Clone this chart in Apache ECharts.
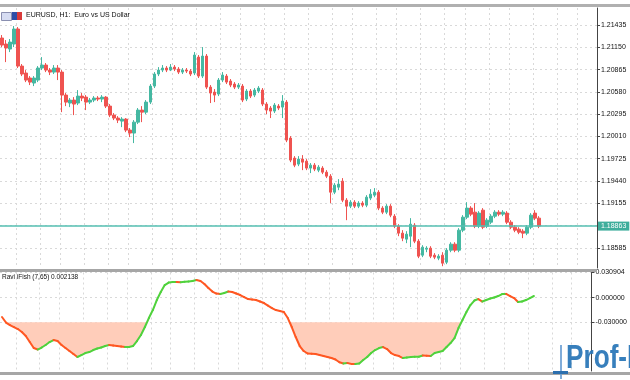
<!DOCTYPE html>
<html><head><meta charset="utf-8">
<script src="https://cdn.jsdelivr.net/npm/echarts@6/dist/echarts.min.js"></script>
<style>html,body{margin:0;padding:0;background:#fff}#c{width:630px;height:380px}</style>
</head><body><div id="c"></div>
<script>
// ---- data (EURUSD H1) ----
const title = 'EURUSD, H1:  Euro vs US Dollar';
const indicatorName = 'Ravi iFish (7,65)';
const currentPrice = 1.18863;
const fishLevel = -0.03;
const priceTicks = [1.18585,1.18870,1.19155,1.19440,1.19725,1.20010,1.20295,1.20580,1.20865,1.21150,1.21435];
const priceLabels = [1.18585,1.19155,1.19440,1.19725,1.20010,1.20295,1.20580,1.20865,1.21150,1.21435];
const fishTicks = [-0.03, 0, 0.030904];
const gridBars = [4,10,15,21,27,32,38,43,49,55,60,66,71,77,83,88,94,99,105,111,116,122,127,133,139,144];
const open = [1.21269,1.21192,1.21128,1.21192,1.21384,1.20910,1.20821,1.20757,1.20693,1.20731,
1.20885,1.20923,1.20859,1.20833,1.20885,1.20833,1.20539,1.20437,1.20475,1.20437,
1.20526,1.20513,1.20449,1.20475,1.20501,1.20488,1.20513,1.20398,1.20283,1.20245,
1.20206,1.20232,1.20091,1.20053,1.20193,1.20347,1.20321,1.20449,1.20654,1.20808,
1.20859,1.20885,1.20859,1.20897,1.20872,1.20833,1.20859,1.20846,1.20821,1.21025,
1.20782,1.21038,1.20641,1.20577,1.20552,1.20731,1.20782,1.20718,1.20680,1.20641,
1.20654,1.20488,1.20590,1.20539,1.20590,1.20603,1.20424,1.20373,1.20334,1.20398,
1.20385,1.20449,1.19989,1.19733,1.19656,1.19720,1.19694,1.19605,1.19643,1.19579,
1.19605,1.19553,1.19502,1.19297,1.19361,1.19438,1.19195,1.19118,1.19169,1.19118,
1.19157,1.19131,1.19221,1.19259,1.19297,1.19093,1.19041,1.19118,1.18990,1.18862,
1.18773,1.18696,1.18734,1.18875,1.18670,1.18491,1.18568,1.18581,1.18491,1.18453,
1.18491,1.18401,1.18555,1.18632,1.18555,1.18811,1.18977,1.19093,1.19041,1.18862,
1.19067,1.18862,1.18913,1.18990,1.19041,1.19016,1.19029,1.18913,1.18849,1.18824,
1.18798,1.18773,1.18849,1.19029,1.18965];
const close = [1.21179,1.21141,1.21217,1.21384,1.20910,1.20808,1.20731,1.20705,1.20757,1.20885,
1.20923,1.20859,1.20833,1.20885,1.20833,1.20539,1.20449,1.20475,1.20424,1.20526,
1.20501,1.20449,1.20475,1.20501,1.20488,1.20513,1.20398,1.20283,1.20245,1.20219,
1.20232,1.20091,1.20053,1.20193,1.20347,1.20321,1.20449,1.20654,1.20808,1.20859,
1.20885,1.20859,1.20897,1.20872,1.20833,1.20859,1.20846,1.20808,1.21051,1.20782,
1.21038,1.20641,1.20565,1.20539,1.20731,1.20795,1.20705,1.20667,1.20641,1.20667,
1.20475,1.20590,1.20526,1.20603,1.20629,1.20424,1.20347,1.20334,1.20411,1.20373,
1.20462,1.19963,1.19707,1.19643,1.19720,1.19681,1.19605,1.19643,1.19592,1.19617,
1.19553,1.19502,1.19297,1.19387,1.19400,1.19195,1.19118,1.19169,1.19118,1.19157,
1.19131,1.19233,1.19272,1.19297,1.19093,1.19041,1.19118,1.19003,1.18862,1.18773,
1.18709,1.18760,1.18888,1.18670,1.18478,1.18594,1.18581,1.18478,1.18466,1.18478,
1.18389,1.18555,1.18632,1.18555,1.18811,1.18977,1.19093,1.19016,1.18862,1.19029,
1.18849,1.18939,1.18990,1.19041,1.19016,1.19041,1.18913,1.18849,1.18811,1.18785,
1.18773,1.18849,1.19003,1.18965,1.18863];
const low = [1.21153,1.20961,1.21089,1.21153,1.20885,1.20782,1.20705,1.20667,1.20654,1.20705,
1.20859,1.20833,1.20795,1.20808,1.20731,1.20321,1.20398,1.20385,1.20283,1.20411,
1.20462,1.20347,1.20424,1.20449,1.20462,1.20449,1.20373,1.20257,1.20219,1.20181,
1.20129,1.20065,1.20001,1.19925,1.20168,1.20193,1.20296,1.20424,1.20629,1.20782,
1.20833,1.20833,1.20846,1.20846,1.20808,1.20808,1.20821,1.20782,1.20795,1.20757,
1.20757,1.20616,1.20437,1.20449,1.20526,1.20705,1.20680,1.20641,1.20616,1.20616,
1.20449,1.20462,1.20501,1.20513,1.20565,1.20398,1.20296,1.20245,1.20309,1.20347,
1.20245,1.19937,1.19681,1.19617,1.19630,1.19579,1.19579,1.19541,1.19566,1.19553,
1.19528,1.19477,1.19157,1.19272,1.19323,1.19169,1.18939,1.19093,1.19093,1.19093,
1.19105,1.19105,1.19195,1.19233,1.19067,1.19016,1.19016,1.18977,1.18837,1.18734,
1.18670,1.18645,1.18594,1.18645,1.18453,1.18466,1.18529,1.18453,1.18440,1.18427,
1.18350,1.18376,1.18529,1.18529,1.18529,1.18785,1.18952,1.18990,1.18837,1.18837,
1.18824,1.18837,1.18888,1.18965,1.18990,1.18990,1.18888,1.18824,1.18785,1.18760,
1.18709,1.18747,1.18824,1.18939,1.18837];
const high = [1.21307,1.21243,1.21256,1.21422,1.21409,1.20936,1.20859,1.20782,1.20782,1.20910,
1.21025,1.20949,1.20885,1.20923,1.20923,1.20859,1.20565,1.20501,1.20513,1.20603,
1.20565,1.20539,1.20501,1.20526,1.20526,1.20539,1.20526,1.20424,1.20309,1.20270,
1.20257,1.20245,1.20117,1.20219,1.20373,1.20398,1.20475,1.20680,1.20833,1.20897,
1.20923,1.20910,1.20936,1.20923,1.20897,1.20885,1.20885,1.20872,1.21089,1.21051,
1.21153,1.21064,1.20667,1.20616,1.20757,1.20833,1.20808,1.20744,1.20705,1.20693,
1.20680,1.20616,1.20616,1.20629,1.20654,1.20629,1.20449,1.20398,1.20437,1.20424,
1.20539,1.20475,1.20014,1.19758,1.19758,1.19771,1.19720,1.19669,1.19669,1.19643,
1.19630,1.19579,1.19528,1.19413,1.19464,1.19477,1.19221,1.19195,1.19195,1.19182,
1.19182,1.19259,1.19336,1.19349,1.19323,1.19118,1.19144,1.19144,1.19016,1.18888,
1.18811,1.18798,1.18965,1.18901,1.18696,1.18619,1.18606,1.18606,1.18517,1.18504,
1.18529,1.18581,1.18657,1.18657,1.18837,1.19003,1.19169,1.19118,1.19157,1.19054,
1.19093,1.18965,1.19016,1.19067,1.19067,1.19067,1.19054,1.18939,1.18875,1.18849,
1.18824,1.18875,1.19029,1.19067,1.18990];
const ifish = [-0.02362,-0.03036,-0.03342,-0.03586,-0.03831,-0.04198,-0.04688,-0.05422,-0.06157,-0.06340,
-0.06096,-0.05790,-0.05422,-0.05178,-0.05300,-0.05790,-0.06157,-0.06524,-0.06891,-0.07258,
-0.07014,-0.06769,-0.06646,-0.06402,-0.06218,-0.06096,-0.05912,-0.05790,-0.05851,-0.05912,
-0.05973,-0.06034,-0.06034,-0.05912,-0.05300,-0.04566,-0.03586,-0.02485,-0.01506,-0.00282,
0.00698,0.01554,0.01860,0.01922,0.01935,0.01910,0.01945,0.01983,0.02044,0.02166,
0.02044,0.01677,0.01187,0.00759,0.00514,0.00453,0.00575,0.00759,0.00698,0.00514,
0.00330,0.00086,-0.00159,-0.00220,-0.00282,-0.00465,-0.00649,-0.00955,-0.01261,-0.01506,
-0.01628,-0.01750,-0.02485,-0.03586,-0.04810,-0.05912,-0.06524,-0.06830,-0.06867,-0.06891,
-0.07014,-0.07136,-0.07258,-0.07381,-0.07564,-0.07900,-0.08050,-0.08000,-0.08100,-0.08120,
-0.08050,-0.07626,-0.07258,-0.06769,-0.06402,-0.06157,-0.06034,-0.06279,-0.06769,-0.07014,
-0.07136,-0.07381,-0.07320,-0.07258,-0.07240,-0.07220,-0.07075,-0.07100,-0.07136,-0.06769,
-0.06646,-0.06524,-0.06034,-0.05545,-0.04933,-0.03709,-0.02730,-0.01750,-0.00894,-0.00343,
-0.00159,-0.00465,-0.00282,-0.00098,0.00024,0.00208,0.00453,0.00470,0.00208,-0.00037,
-0.00526,-0.00465,-0.00282,-0.00037,0.002138];
const emptySlots = 14; // chart shift to the right

// ---- styles ----
const FONT = 'Liberation Sans';
const UP = '#45B8A2', DOWN = '#EF5350';
const GREEN = '#4FD23C', ORANGE = '#FF5722', FILL = '#FFCDBA';
const GRID = '#D9D9D9';

const nSlots = open.length + emptySlots;
const slots = Array.from({length: nSlots}, (_, i) => 'bar ' + i);
const candles = open.map((o, i) => [o, close[i], low[i], high[i]]);

const chart = echarts.init(document.getElementById('c'));

function fillRender(params, api) {
  if (params.dataIndex !== 0) return null;
  const polys = [];
  let cur = null;
  const cross = (i) => {
    const a = api.coord([i - 1, ifish[i - 1]]), b = api.coord([i, ifish[i]]);
    const t = (fishLevel - ifish[i - 1]) / (ifish[i] - ifish[i - 1]);
    const lv = api.coord([i, fishLevel])[1];
    return [a[0] + t * (b[0] - a[0]), lv];
  };
  for (let i = 0; i < ifish.length; i++) {
    const v = ifish[i];
    if (v < fishLevel) {
      if (!cur) { cur = [i > 0 ? cross(i) : api.coord([i, fishLevel])]; }
      cur.push(api.coord([i, v]));
    } else if (cur) {
      cur.push(cross(i)); polys.push(cur); cur = null;
    }
  }
  if (cur) { cur.push(api.coord([ifish.length - 1, fishLevel])); polys.push(cur); }
  return {type: 'group', children: polys.map(p => ({type: 'polygon', shape: {points: p}, style: {fill: FILL}}))};
}

function segRender(params, api) {
  const i = api.value(0);
  if (i === 0) return null;
  const a = api.coord([i - 1, ifish[i - 1]]), b = api.coord([i, ifish[i]]);
  return {type: 'line', shape: {x1: a[0], y1: a[1], x2: b[0], y2: b[1]},
    style: {stroke: ifish[i] >= ifish[i - 1] ? GREEN : ORANGE, lineWidth: 2, lineCap: 'round'}};
}

const xBase = {
  type: 'category', data: slots, boundaryGap: true,
  axisLine: {show: false}, axisTick: {show: false}, axisLabel: {show: false},
  splitLine: {show: true, interval: (idx) => gridBars.indexOf(idx) >= 0, lineStyle: {color: GRID, type: [2, 3], width: 1}}
};

chart.setOption({
  animation: false,
  backgroundColor: '#fff',
  grid: [
    {left: 0, right: 33, top: 8, height: 260},
    {left: 0, right: 33, top: 272.5, height: 98.5}
  ],
  xAxis: [Object.assign({gridIndex: 0}, xBase), Object.assign({gridIndex: 1}, xBase)],
  yAxis: [
    {type: 'value', gridIndex: 0, position: 'right', min: 1.18327, max: 1.21653,
     axisLine: {show: true, lineStyle: {color: '#444', width: 1}},
     axisTick: {show: true, length: 3, customValues: priceTicks, lineStyle: {color: '#444'}},
     axisLabel: {customValues: priceLabels, formatter: v => v.toFixed(5), fontSize: 7, fontFamily: FONT, color: '#111', margin: 4},
     splitLine: {show: true, lineStyle: {color: GRID, type: [2, 3]}}},
    {type: 'value', gridIndex: 1, position: 'right', min: -0.0897, max: 0.030904,
     axisLine: {show: true, lineStyle: {color: '#444', width: 1}},
     axisTick: {show: true, length: 3, customValues: fishTicks, lineStyle: {color: '#444'}},
     axisLabel: {customValues: fishTicks, formatter: v => v.toFixed(6), fontSize: 7, fontFamily: FONT, color: '#111', margin: 4},
     splitLine: {show: true, lineStyle: {color: GRID, type: [2, 3]}}}
  ],
  series: [
    {type: 'candlestick', xAxisIndex: 0, yAxisIndex: 0, data: candles, barWidth: 3,
     itemStyle: {color: UP, color0: DOWN, borderColor: UP, borderColor0: DOWN, borderWidth: 1}},
    {type: 'line', xAxisIndex: 0, yAxisIndex: 0, data: close, showSymbol: false, silent: true,
     lineStyle: {opacity: 0}, z: 4,
     markLine: {symbol: ['none', 'none'], silent: true, animation: false, precision: 5,
       data: [{yAxis: currentPrice}],
       lineStyle: {color: '#55BFB2', width: 1.5, type: 'solid'},
       label: {show: true, position: 'end', formatter: currentPrice.toFixed(5), color: '#fff',
         backgroundColor: '#3FAE9C', padding: [1, 3, 1, 3], fontSize: 7, fontFamily: FONT, distance: 1}}},
    {type: 'custom', xAxisIndex: 1, yAxisIndex: 1, data: [[0, fishLevel]], renderItem: fillRender, silent: true, z: 1},
    {type: 'custom', xAxisIndex: 1, yAxisIndex: 1, data: ifish.map((v, i) => [i, v]), renderItem: segRender, silent: true, z: 3}
  ],
  graphic: [
    {type: 'rect', left: 0, top: 4, shape: {width: 630, height: 3}, style: {fill: '#B0B0B0'}, z: 10},
    {type: 'rect', left: 0, top: 269, shape: {width: 597, height: 3}, style: {fill: '#A6A6A6'}, z: 10},
    {type: 'rect', left: 0, top: 372, shape: {width: 630, height: 3}, style: {fill: '#A6A6A6'}, z: 10},
    {type: 'rect', left: 1, top: 12, shape: {width: 10, height: 8}, style: {fill: '#D6DCF2', stroke: '#8A8FB0', lineWidth: 1}, z: 10},
    {type: 'rect', left: 12, top: 12, shape: {width: 5, height: 8}, style: {fill: '#2E4FA8'}, z: 10},
    {type: 'rect', left: 17, top: 12, shape: {width: 5, height: 8}, style: {fill: '#D93A3A'}, z: 10},
    {type: 'text', left: 26, top: 12, style: {text: title, fontSize: 7, fontFamily: FONT, fill: '#111'}, z: 10},
    {type: 'text', left: 2, top: 274, style: {text: indicatorName + ' ' + ifish[ifish.length - 1].toFixed(6), fontSize: 6.5, fontFamily: FONT, fill: '#111'}, z: 10},
    {type: 'rect', left: 560, top: 345, shape: {width: 2, height: 34}, style: {fill: '#6A9ED2', opacity: 0.85}, z: 20},
    {type: 'rect', left: 553, top: 371, shape: {width: 15, height: 3}, style: {fill: '#2C6FAE'}, z: 20},
    {type: 'text', x: 566, y: 342, style: {text: 'Prof-FX', fontSize: 34, fontWeight: 'bold', fontFamily: FONT, fill: '#2C78B8', opacity: 0.95}, scaleX: 0.77, z: 20}
  ]
});
</script></body></html>
